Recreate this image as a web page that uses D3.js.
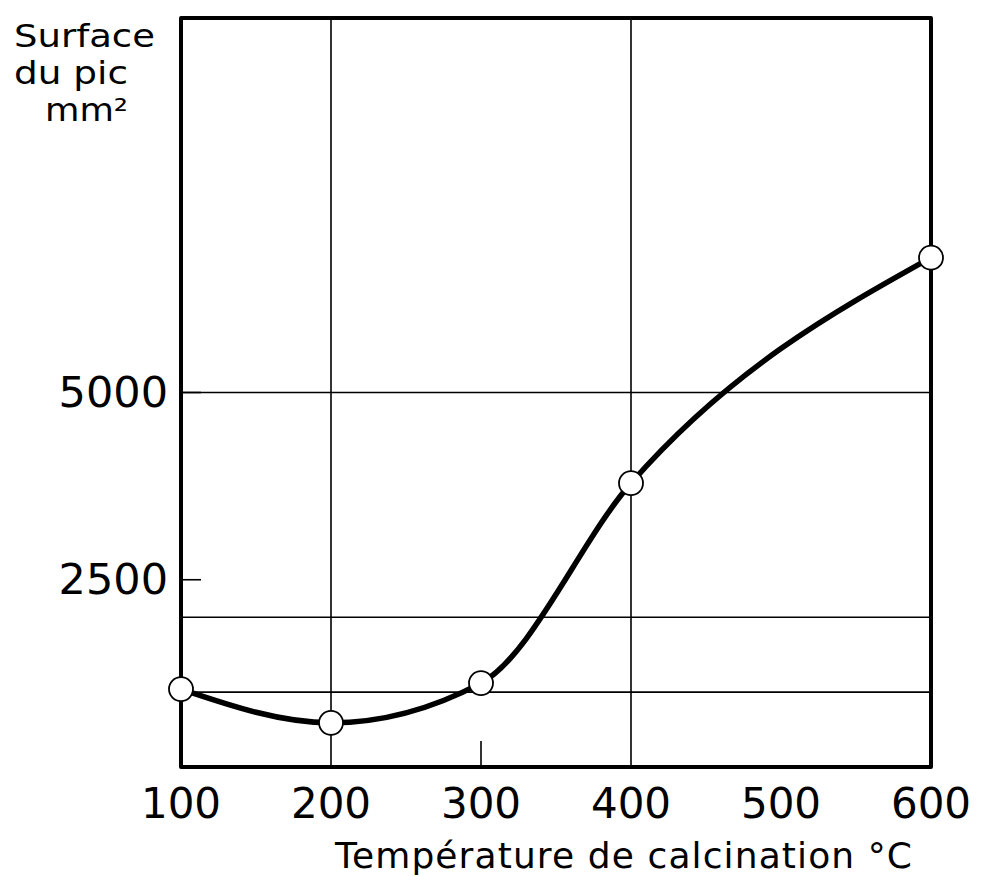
<!DOCTYPE html>
<html>
<head>
<meta charset="utf-8">
<script src="https://cdnjs.cloudflare.com/ajax/libs/d3/7.8.5/d3.min.js"></script>
<style>
  html, body { margin: 0; padding: 0; background: #fff; }
  svg text { font-family: "DejaVu Sans", sans-serif; fill: #000; }
</style>
</head>
<body>
<svg id="chart" width="985" height="884"></svg>
<script>
// Calcination temperature (°C) and measured peak area (mm²)
const temperatures = [100, 200, 300, 400, 600];
const peakAreas = [1040, 590, 1120, 3790, 6800];

const xTickValues = [100, 200, 300, 400, 500, 600];
const yTickValues = [2500, 5000];
const yGridValues = [1000, 2000, 5000];
const xGridValues = [200, 400];
const xShortTicks = [300];

const yTitleLines = ["Surface", "du pic", "mm²"];
const xTitle = "Température de calcination °C";

const svg = d3.select("#chart");
const plotLeft = 181, plotRight = 931, plotTop = 18, plotBottom = 767;

const x = d3.scaleLinear().domain([100, 600]).range([plotLeft, plotRight]);
const y = d3.scaleLinear().domain([0, 10000]).range([plotBottom, plotTop]);

// grid lines
svg.append("g").selectAll("line").data(yGridValues).join("line")
  .attr("x1", plotLeft).attr("x2", plotRight)
  .attr("y1", d => y(d)).attr("y2", d => y(d))
  .attr("stroke", "#000").attr("stroke-width", 1.6);

svg.append("g").selectAll("line").data(xGridValues).join("line")
  .attr("x1", d => x(d)).attr("x2", d => x(d))
  .attr("y1", plotTop).attr("y2", plotBottom)
  .attr("stroke", "#000").attr("stroke-width", 1.6);

svg.append("g").selectAll("line").data(xShortTicks).join("line")
  .attr("x1", d => x(d)).attr("x2", d => x(d))
  .attr("y1", plotBottom).attr("y2", plotBottom - 26)
  .attr("stroke", "#000").attr("stroke-width", 1.6);

// y ticks (short marks inside the frame)
svg.append("g").selectAll("line").data(yTickValues).join("line")
  .attr("x1", plotLeft).attr("x2", plotLeft + 20)
  .attr("y1", d => y(d)).attr("y2", d => y(d))
  .attr("stroke", "#000").attr("stroke-width", 1.6);

// frame
svg.append("path")
  .attr("d", `M${plotLeft},${plotTop} L${plotRight},${plotTop} L${plotRight},${plotBottom} L${plotLeft},${plotBottom} Z`)
  .attr("fill", "none").attr("stroke", "#000").attr("stroke-width", 4)
  .attr("stroke-linejoin", "round");

// curve
const pts = temperatures.map((t, i) => [t, peakAreas[i]]);
const line = d3.line().x(d => x(d[0])).y(d => y(d[1])).curve(d3.curveMonotoneX);
svg.append("path").attr("d", line(pts))
  .attr("fill", "none").attr("stroke", "#000").attr("stroke-width", 5.5)
  .attr("stroke-linecap", "round");

// markers
svg.append("g").selectAll("circle").data(pts).join("circle")
  .attr("cx", d => x(d[0])).attr("cy", d => y(d[1])).attr("r", 12)
  .attr("fill", "#fff").attr("stroke", "#000").attr("stroke-width", 1.8);

// tick labels
svg.append("g").selectAll("text").data(yTickValues).join("text")
  .attr("x", 168).attr("y", d => y(d) + 14)
  .attr("text-anchor", "end").attr("font-size", 43)
  .text(d => d);

svg.append("g").selectAll("text").data(xTickValues).join("text")
  .attr("x", d => x(d)).attr("y", 818)
  .attr("text-anchor", "middle").attr("font-size", 42)
  .text(d => d);

// axis titles
const yTitleX = [14, 14, 45];
const yTitleY = [47, 84, 121];
const yTitleW = [141, 114, 83];
svg.append("g").selectAll("text").data(yTitleLines).join("text")
  .attr("x", (d, i) => yTitleX[i]).attr("y", (d, i) => yTitleY[i])
  .attr("font-size", 31.5)
  .attr("textLength", (d, i) => yTitleW[i]).attr("lengthAdjust", "spacingAndGlyphs")
  .text(d => d);

svg.append("text")
  .attr("x", 335).attr("y", 868)
  .attr("font-size", 36)
  .attr("textLength", 577).attr("lengthAdjust", "spacing")
  .text(xTitle);
</script>
</body>
</html>
